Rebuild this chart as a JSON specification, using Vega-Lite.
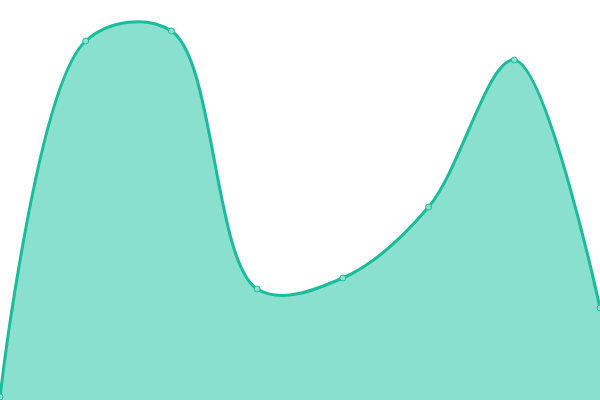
{
  "$schema": "https://vega.github.io/schema/vega-lite/v6.json",
  "width": 600,
  "height": 400,
  "padding": 0,
  "autosize": {"type": "fit", "contains": "padding"},
  "config": {"view": {"stroke": null}},
  "data": {
    "values": [
      {"i": 0, "v": 3},
      {"i": 1, "v": 359},
      {"i": 2, "v": 369},
      {"i": 3, "v": 111},
      {"i": 4, "v": 122},
      {"i": 5, "v": 193},
      {"i": 6, "v": 340},
      {"i": 7, "v": 92}
    ]
  },
  "encoding": {
    "x": {"field": "i", "type": "quantitative", "scale": {"domain": [0, 7], "nice": false, "zero": false}, "axis": null},
    "y": {"field": "v", "type": "quantitative", "scale": {"domain": [0, 400], "nice": false}, "axis": null}
  },
  "layer": [
    {"mark": {"type": "area", "interpolate": "catmull-rom", "color": "#8ae0cf", "clip": true}},
    {"mark": {"type": "line", "interpolate": "catmull-rom", "color": "#1abc9c", "strokeWidth": 3, "clip": true}},
    {"mark": {"type": "point", "filled": true, "fill": "#8ae0cf", "stroke": "#1abc9c", "strokeWidth": 1, "size": 36, "opacity": 1, "clip": true}}
  ]
}
